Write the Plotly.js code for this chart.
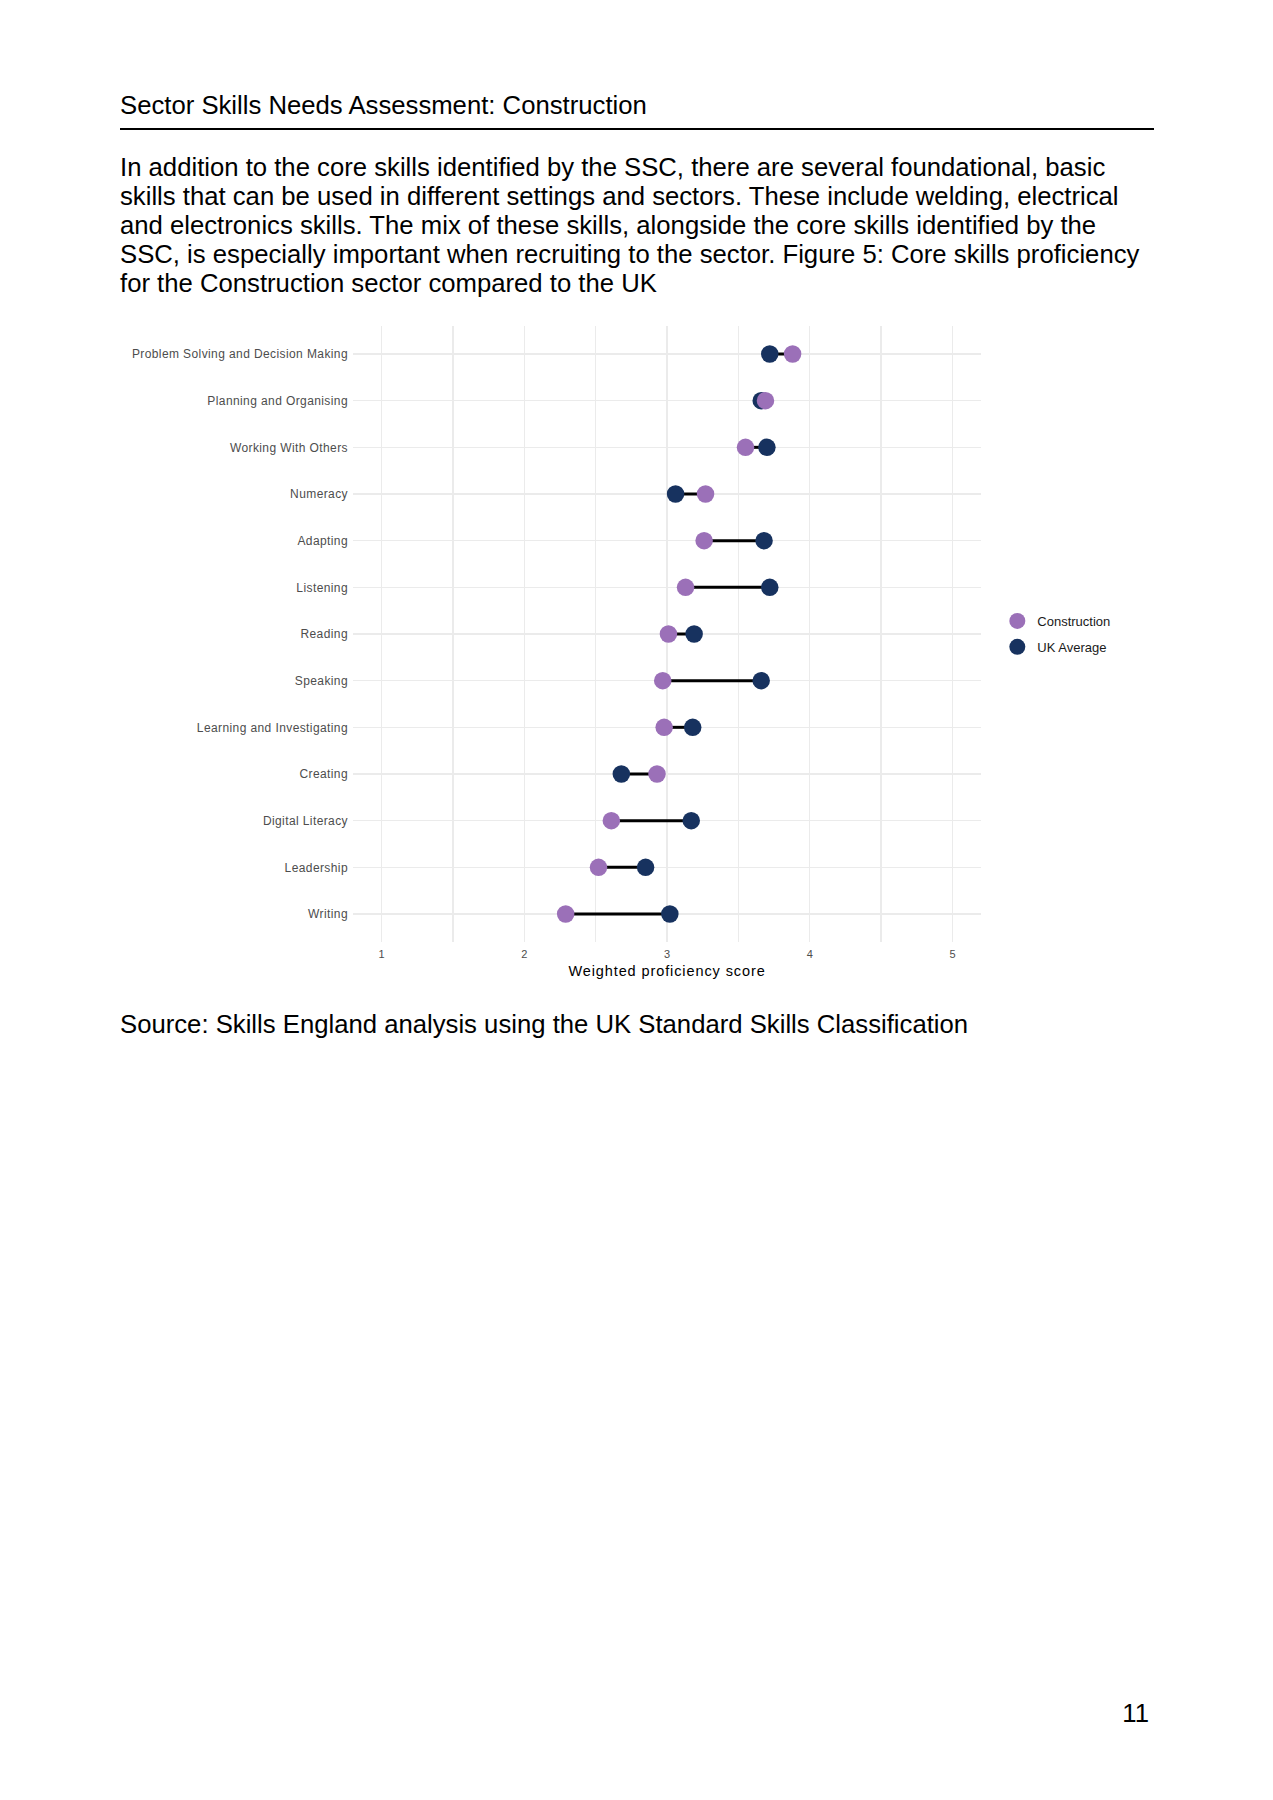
<!DOCTYPE html>
<html>
<head>
<meta charset="utf-8">
<script src="https://cdn.plot.ly/plotly-3.0.1.min.js"></script>
<style>
  html, body { margin: 0; padding: 0; background: #ffffff; }
  body { width: 1273px; height: 1800px; position: relative; overflow: hidden;
         font-family: "Liberation Sans", Arial, sans-serif; color: #000; }
  .t { position: absolute; font-size: 25.7px; line-height: 29px; white-space: nowrap; }
  #rule { position: absolute; left: 120px; top: 128px; width: 1034px; height: 2px; background: #000; }
  #chart { position: absolute; left: 0; top: 300px; width: 1273px; height: 700px; }
  #chart .ytick text { letter-spacing: 0.4px; }
  #chart .xtitle { letter-spacing: 0.9px; }
</style>
</head>
<body>
<div class="t" style="left:120px; top:90.5px;">Sector Skills Needs Assessment: Construction</div>
<div id="rule"></div>
<div class="t" style="left:120px; top:153.3px;">In addition to the core skills identified by the SSC, there are several foundational, basic</div>
<div class="t" style="left:120px; top:182.3px;">skills that can be used in different settings and sectors. These include welding, electrical</div>
<div class="t" style="left:120px; top:211.3px;">and electronics skills. The mix of these skills, alongside the core skills identified by the</div>
<div class="t" style="left:120px; top:240.3px;">SSC, is especially important when recruiting to the sector. Figure 5: Core skills proficiency</div>
<div class="t" style="left:120px; top:269.3px;">for the Construction sector compared to the UK</div>
<div id="chart"></div>
<div class="t" style="left:120px; top:1009.6px;">Source: Skills England analysis using the UK Standard Skills Classification</div>
<div class="t" style="right:124px; top:1698.6px; text-align:right;">11</div>
<script>
// ---- data ----
const skills = [
  "Problem Solving and Decision Making",
  "Planning and Organising",
  "Working With Others",
  "Numeracy",
  "Adapting",
  "Listening",
  "Reading",
  "Speaking",
  "Learning and Investigating",
  "Creating",
  "Digital Literacy",
  "Leadership",
  "Writing"
];
const construction = [3.88, 3.69, 3.55, 3.27, 3.26, 3.13, 3.01, 2.97, 2.98, 2.93, 2.61, 2.52, 2.29];
const ukAverage    = [3.72, 3.66, 3.70, 3.06, 3.68, 3.72, 3.19, 3.66, 3.18, 2.68, 3.17, 2.85, 3.02];
const xTicks = [1, 2, 3, 4, 5];
const seriesNames = ["Construction", "UK Average"];

// ---- build traces ----
const segX = [], segY = [];
skills.forEach((s, i) => {
  segX.push(construction[i], ukAverage[i], null);
  segY.push(s, s, null);
});

const COL_CON = "#9b70b8";
const COL_UK = "#17325f";

const traces = [
  { type: "scatter", mode: "lines", x: segX, y: segY, showlegend: false,
    line: { color: "#000000", width: 3 }, hoverinfo: "skip" },
  { type: "scatter", mode: "markers", name: seriesNames[1], x: ukAverage, y: skills,
    legendgroup: "uk", legendrank: 2,
    marker: { color: COL_UK, size: 17.5, line: { width: 0 } } },
  { type: "scatter", mode: "markers", name: seriesNames[0], x: construction, y: skills,
    legendgroup: "con", legendrank: 1,
    marker: { color: COL_CON, size: 17.5, line: { width: 0 } } }
];

const layout = {
  width: 1273, height: 700,
  margin: { l: 353, r: 292, t: 26, b: 58, pad: 0 },
  paper_bgcolor: "rgba(0,0,0,0)",
  plot_bgcolor: "rgba(0,0,0,0)",
  font: { family: "Liberation Sans, Arial, sans-serif", color: "#4d4d4d" },
  showlegend: true,
  legend: {
    x: 1.026, xanchor: "left", y: 0.5, yanchor: "middle",
    font: { size: 13, color: "#1a1a1a" },
    bgcolor: "rgba(0,0,0,0)", borderwidth: 0,
    tracegroupgap: 6, itemsizing: "trace"
  },
  xaxis: {
    range: [0.8, 5.2],
    tickmode: "array", tickvals: xTicks, ticktext: xTicks.map(String),
    ticks: "", showline: false, zeroline: false,
    showgrid: true, gridcolor: "#ebebeb", gridwidth: 1.5,
    minor: { dtick: 0.5, tick0: 0, showgrid: true, gridcolor: "#ebebeb", gridwidth: 1.2, ticks: "" },
    tickfont: { size: 11, color: "#4d4d4d" },
    ticklabelstandoff: 4,
    automargin: false,
    title: { text: "Weighted proficiency score", font: { size: 14.5, color: "#000000" }, standoff: 6 },
    fixedrange: true
  },
  yaxis: {
    type: "category",
    categoryorder: "array", categoryarray: skills,
    range: [skills.length - 1 + 0.6, -0.6],
    ticks: "", showline: false, zeroline: false,
    showgrid: true, gridcolor: "#ebebeb", gridwidth: 1.5,
    tickfont: { size: 12, color: "#4d4d4d" },
    ticklabelstandoff: 4,
    automargin: false,
    fixedrange: true
  },
  hovermode: false
};

Plotly.newPlot("chart", traces, layout, { staticPlot: true, displayModeBar: false });
</script>
</body>
</html>
